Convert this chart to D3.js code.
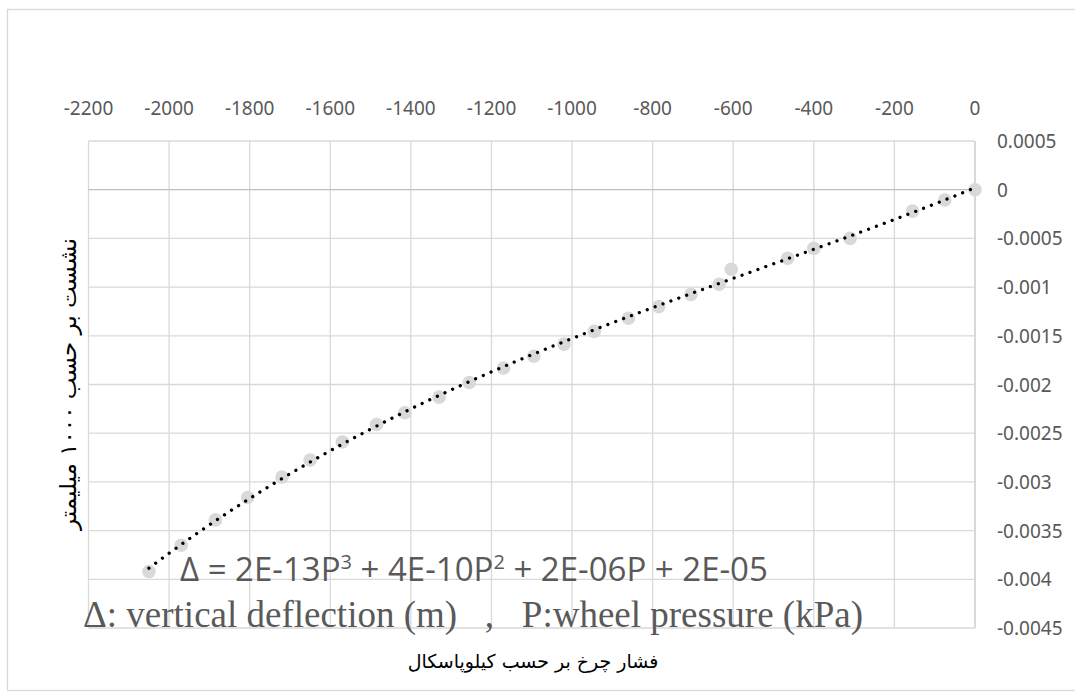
<!DOCTYPE html>
<html>
<head>
<meta charset="utf-8">
<script src="https://cdn.jsdelivr.net/npm/d3@7"></script>
<style>
  body { margin: 0; background: #fff; }
  text { font-family: "Noto Sans", "Open Sans", sans-serif; }
</style>
</head>
<body>
<div id="chart"></div>
<script>
var w = 1075,
    h = 699;

// wheel pressure (kPa) and vertical deflection (m)
var pressure = [-2050, -1970, -1885, -1805, -1720, -1650, -1570, -1485, -1415, -1330,
                -1255, -1170, -1095, -1020, -945, -860, -785, -705, -635, -605,
                -465, -400, -310, -155, -75, 0];
var deflection = [-0.00392, -0.00365, -0.00339, -0.00316, -0.00295, -0.002775, -0.00259, -0.00241, -0.00229, -0.00213,
                  -0.00198, -0.00183, -0.00171, -0.001585, -0.001455, -0.00132, -0.0012, -0.001075, -0.00097, -0.000817,
                  -0.000704, -0.000602, -0.0005, -0.00022, -0.000106, 0];

var xTicks = d3.range(-2200, 1, 200);
var yTicks = [0.0005, 0, -0.0005, -0.001, -0.0015, -0.002, -0.0025, -0.003, -0.0035, -0.004, -0.0045];

var equationParts = [["Δ = 2E-13P", "3"], [" + 4E-10P", "2"], [" + 2E-06P + 2E-05", ""]];
var legendNote = "Δ: vertical deflection (m)   ,   P:wheel pressure (kPa)";
var xTitle = "فشار چرخ بر حسب کیلوپاسکال";
var yTitle = "نشست بر حسب ۱۰۰۰ میلیمتر";

var plotLeft = 88.5, plotRight = 975, plotTop = 141, plotBottom = 628;

var x = d3.scaleLinear().domain([-2200, 0]).range([plotLeft, plotRight]);
var y = d3.scaleLinear().domain([0.0005, -0.0045]).range([plotTop, plotBottom]);

var svg = d3.select("#chart")
    .append("svg")
    .attr("width", w)
    .attr("height", h);

svg.append("rect")
    .attr("width", w).attr("height", h).attr("fill", "#fff");

// chart area border
svg.append("rect")
    .attr("x", 7.5).attr("y", 9.5)
    .attr("width", w).attr("height", 681)
    .attr("fill", "none").attr("stroke", "#d9d9d9").attr("stroke-width", 1.3);

// gridlines
svg.append("g").selectAll("line")
    .data(xTicks).enter().append("line")
    .attr("x1", function(d) { return x(d); })
    .attr("x2", function(d) { return x(d); })
    .attr("y1", plotTop).attr("y2", plotBottom)
    .attr("stroke", function(d) { return d === 0 ? "#c4c4c4" : "#d9d9d9"; })
    .attr("stroke-width", 1.3);

svg.append("g").selectAll("line")
    .data(yTicks).enter().append("line")
    .attr("x1", plotLeft).attr("x2", plotRight)
    .attr("y1", function(d) { return y(d); })
    .attr("y2", function(d) { return y(d); })
    .attr("stroke", function(d) { return d === 0 ? "#bfbfbf" : "#d9d9d9"; })
    .attr("stroke-width", 1.3);

// tick labels (top and right)
svg.append("g").selectAll("text")
    .data(xTicks).enter().append("text")
    .attr("x", function(d) { return x(d); })
    .attr("y", 108)
    .attr("text-anchor", "middle")
    .attr("dominant-baseline", "central")
    .attr("fill", "#595959")
    .style("font-size", "19px")
    .text(function(d) { return d; });

svg.append("g").selectAll("text")
    .data(yTicks).enter().append("text")
    .attr("x", 997)
    .attr("y", function(d) { return y(d); })
    .attr("dominant-baseline", "central")
    .attr("fill", "#595959")
    .style("font-size", "19px")
    .text(function(d) { return d === 0 ? "0" : String(d); });

// cubic least squares trendline
function polyfit(xs, ys, deg) {
  var n = deg + 1, A = [], i, j, k;
  for (i = 0; i < n; i++) {
    A.push([]);
    for (j = 0; j < n; j++) A[i].push(d3.sum(xs, function(v) { return Math.pow(v, i + j); }));
    A[i].push(d3.sum(xs, function(v, q) { return Math.pow(v, i) * ys[q]; }));
  }
  for (i = 0; i < n; i++) {
    var p = i;
    for (k = i + 1; k < n; k++) if (Math.abs(A[k][i]) > Math.abs(A[p][i])) p = k;
    var t = A[i]; A[i] = A[p]; A[p] = t;
    for (k = i + 1; k < n; k++) {
      var f = A[k][i] / A[i][i];
      for (j = i; j <= n; j++) A[k][j] -= f * A[i][j];
    }
  }
  var c = new Array(n);
  for (i = n - 1; i >= 0; i--) {
    var s = A[i][n];
    for (j = i + 1; j < n; j++) s -= A[i][j] * c[j];
    c[i] = s / A[i][i];
  }
  return c;
}

var ps = pressure.map(function(p) { return p / 1000; });
var coef = polyfit(ps, deflection, 3);
var fitAt = function(p) {
  var s = p / 1000;
  return coef[0] + coef[1] * s + coef[2] * s * s + coef[3] * s * s * s;
};

var points = pressure.map(function(p, i) { return {p: p, d: deflection[i]}; });

svg.append("g").selectAll("circle")
    .data(points).enter().append("circle")
    .attr("cx", function(d) { return x(d.p); })
    .attr("cy", function(d) { return y(d.d); })
    .attr("r", 6.8)
    .attr("fill", "#d9d9d9");

var pMin = d3.min(pressure), pMax = d3.max(pressure);
var curve = d3.range(0, 201).map(function(i) { return pMin + (pMax - pMin) * i / 200; });

svg.append("path")
    .datum(curve)
    .attr("d", d3.line()
        .x(function(p) { return x(p); })
        .y(function(p) { return y(fitAt(p)); }))
    .attr("fill", "none")
    .attr("stroke", "#000")
    .attr("stroke-width", 3.3)
    .attr("stroke-linecap", "round")
    .attr("stroke-dasharray", "0.01 8.4");

// trendline equation
var eq = svg.append("text")
    .attr("x", 180).attr("y", 581)
    .attr("fill", "#595959")
    .style("font-family", "'Open Sans', sans-serif")
    .style("font-size", "33px");
var raised = false;
equationParts.forEach(function(part) {
  eq.append("tspan").attr("dy", raised ? 12 : 0).text(part[0]);
  raised = false;
  if (part[1]) {
    eq.append("tspan").attr("dy", -12).style("font-size", "20px").text(part[1]);
    raised = true;
  }
});

svg.append("text")
    .attr("x", 83).attr("y", 627)
    .attr("fill", "#595959")
    .attr("xml:space", "preserve")
    .style("white-space", "pre")
    .style("font-family", "'Liberation Serif', 'Times New Roman', serif")
    .style("font-size", "37px")
    .text(legendNote);

// axis titles
svg.append("text")
    .attr("x", 533).attr("y", 661)
    .attr("text-anchor", "middle")
    .attr("dominant-baseline", "central")
    .attr("direction", "rtl")
    .attr("fill", "#000")
    .style("font-family", "'DejaVu Sans', sans-serif")
    .style("font-size", "19px")
    .text(xTitle);

svg.append("text")
    .attr("transform", "translate(68,384) rotate(-90)")
    .attr("text-anchor", "middle")
    .attr("dominant-baseline", "central")
    .attr("direction", "rtl")
    .attr("fill", "#000")
    .style("font-family", "'DejaVu Sans', sans-serif")
    .style("font-size", "23px")
    .text(yTitle);
</script>
</body>
</html>
